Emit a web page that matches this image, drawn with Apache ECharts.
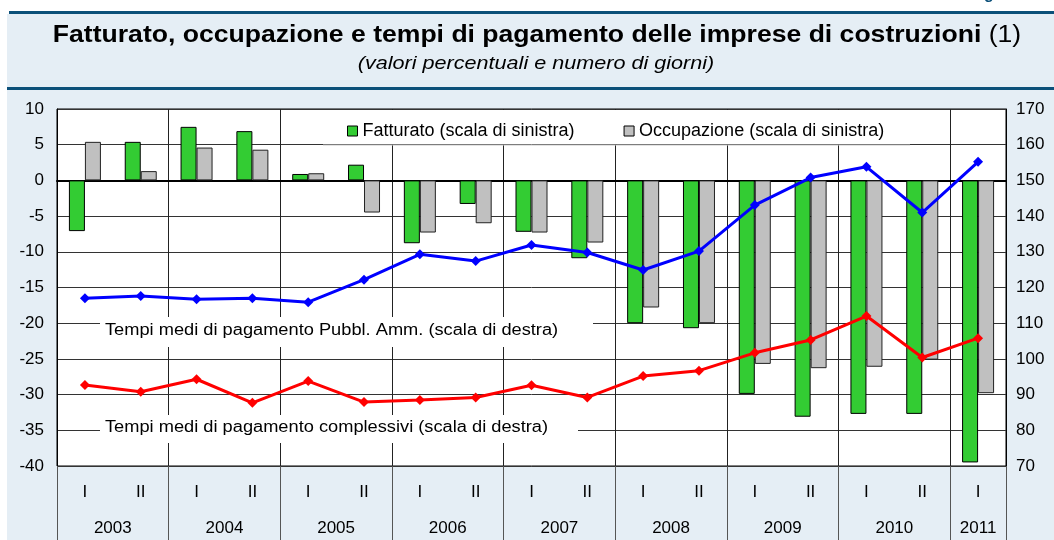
<!DOCTYPE html>
<html>
<head>
<meta charset="utf-8">
<script src="https://cdn.jsdelivr.net/npm/echarts@6/dist/echarts.min.js"></script>
<style>
  html, body { margin: 0; padding: 0; background: #fff; }
  #chart { width: 1054px; height: 540px; }
</style>
</head>
<body>
<div id="chart"></div>
<script>
// semestri (I / II) dal 2003 al 2011
var halves = ['I', 'II', 'I', 'II', 'I', 'II', 'I', 'II', 'I', 'II', 'I', 'II', 'I', 'II', 'I', 'II', 'I']
var years = ['2003', '2004', '2005', '2006', '2007', '2008', '2009', '2010', '2011']

// scala di sinistra (valori percentuali)
var fatturato = [-7.1, 5.4, 7.5, 6.9, 0.9, 2.2, -8.8, -3.3, -7.2, -10.9, -20.0, -20.7, -29.9, -33.1, -32.7, -32.7, -39.5]
var occupazione = [5.4, 1.3, 4.6, 4.3, 1.0, -4.5, -7.3, -6.0, -7.3, -8.7, -17.8, -20.0, -25.7, -26.3, -26.1, -25.1, -29.8]

// scala di destra (numero di giorni)
var pubblAmm = [117.0, 117.6, 116.7, 117.0, 115.9, 122.2, 129.3, 127.4, 131.9, 129.8, 124.9, 130.2, 143.1, 150.8, 153.8, 141.0, 155.2]
var complessivi = [92.7, 90.8, 94.3, 87.7, 93.8, 87.9, 88.5, 89.2, 92.6, 89.2, 95.2, 96.7, 101.7, 105.3, 112.0, 100.4, 105.8]

var font = "'Liberation Sans', Arial, sans-serif"
var bgBlue = '#e5eef5'
var darkBlue = '#0b5079'

// asse degli anni: 2 punti per semestre, etichetta al centro di ogni anno
var yearAxis = []
for (var i = 0; i <= halves.length * 2; i++) yearAxis.push('')
years.forEach(function (y, k) {
  var start = k * 4
  var end = Math.min(start + 4, halves.length * 2)
  yearAxis[(start + end) / 2] = y
})

var chart = echarts.init(document.getElementById('chart'))

var option = {
  backgroundColor: '#fff',
  animation: false,
  textStyle: { fontFamily: font },
  graphic: [
    { type: 'rect', shape: { x: 7, y: 14, width: 1047, height: 73 }, style: { fill: bgBlue }, z: -1 },
    { type: 'rect', shape: { x: 7, y: 90, width: 1047, height: 450 }, style: { fill: bgBlue }, z: -1 },
    { type: 'rect', shape: { x: 9, y: 11, width: 1045, height: 3 }, style: { fill: darkBlue }, z: -1 },
    { type: 'rect', shape: { x: 7, y: 87, width: 1047, height: 3 }, style: { fill: darkBlue }, z: -1 },
    { type: 'text', x: 984, y: -13, style: { text: 'g', font: 'bold 16px ' + font, fill: darkBlue } },
    {
      type: 'text', x: 537, y: 36, scaleX: 1.155,
      style: {
        text: '{b|Fatturato, occupazione e tempi di pagamento delle imprese di costruzioni}{n| (1)}',
        align: 'center', verticalAlign: 'middle',
        rich: {
          b: { font: 'bold 23px ' + font, fill: '#000' },
          n: { font: '23px ' + font, fill: '#000' }
        }
      }
    },
    {
      type: 'text', x: 536, y: 64, scaleX: 1.2,
      style: { text: '(valori percentuali e numero di giorni)', font: 'italic 18px ' + font, fill: '#000', align: 'center', verticalAlign: 'middle' }
    },
    // riquadro bianco della legenda
    { type: 'rect', shape: { x: 323, y: 110, width: 587, height: 34 }, style: { fill: '#fff' }, z: 1 },
    { type: 'line', shape: { x1: 323, y1: 145, x2: 910, y2: 145 }, style: { stroke: '#c8c8c8', lineWidth: 1 }, z: 1 },
    // etichette delle linee
    { type: 'rect', shape: { x: 100, y: 317, width: 493, height: 30 }, style: { fill: '#fff' }, z: 1 },
    { type: 'text', x: 105, y: 331, z: 1, scaleX: 1.14, style: { text: 'Tempi medi di pagamento Pubbl. Amm. (scala di destra)', font: '16px ' + font, fill: '#000', verticalAlign: 'middle' } },
    { type: 'rect', shape: { x: 100, y: 415, width: 478, height: 28 }, style: { fill: '#fff' }, z: 1 },
    { type: 'text', x: 105, y: 428, z: 1, scaleX: 1.14, style: { text: 'Tempi medi di pagamento complessivi (scala di destra)', font: '16px ' + font, fill: '#000', verticalAlign: 'middle' } }
  ],
  legend: {
    data: ['Fatturato (scala di sinistra)', 'Occupazione (scala di sinistra)'],
    left: 347,
    top: 122,
    padding: 0,
    itemWidth: 10,
    itemHeight: 10,
    itemGap: 49,
    icon: 'rect',
    textStyle: { fontSize: 18, color: '#000', fontFamily: font },
    itemStyle: { borderColor: '#000', borderWidth: 1 }
  },
  grid: {
    left: 57,
    right: 48,
    top: 109,
    bottom: 74,
    show: true,
    backgroundColor: '#fff',
    borderColor: '#000',
    borderWidth: 1
  },
  xAxis: [
    {
      type: 'category',
      data: halves,
      axisLine: { lineStyle: { color: '#000', width: 2 } },
      axisTick: { show: false },
      axisLabel: { fontSize: 17, color: '#000', margin: 18, fontFamily: font, interval: 0 },
      splitLine: { show: false }
    },
    {
      type: 'category',
      data: yearAxis,
      boundaryGap: false,
      position: 'bottom',
      axisLine: { show: false },
      axisTick: {
        show: true,
        length: 74,
        interval: function (i) { return i % 4 === 0 || i === yearAxis.length - 1 },
        lineStyle: { color: '#555', width: 1 }
      },
      axisLabel: {
        fontSize: 17, color: '#000', margin: 54, fontFamily: font,
        interval: function (i, v) { return v !== '' }
      },
      splitLine: {
        show: true,
        interval: function (i) { return i % 4 === 0 },
        lineStyle: { color: '#222', width: 1 }
      }
    }
  ],
  yAxis: [
    {
      type: 'value',
      min: -40,
      max: 10,
      interval: 5,
      axisLine: { show: true, lineStyle: { color: '#000' } },
      axisTick: { show: false },
      axisLabel: { fontSize: 17, color: '#000', margin: 13, fontFamily: font },
      splitLine: { lineStyle: { color: '#333', width: 1 } }
    },
    {
      type: 'value',
      min: 70,
      max: 170,
      interval: 10,
      axisLine: { show: true, lineStyle: { color: '#000' } },
      axisTick: { show: false },
      axisLabel: { fontSize: 17, color: '#000', margin: 10, fontFamily: font },
      splitLine: { show: false }
    }
  ],
  series: [
    {
      name: 'Fatturato (scala di sinistra)',
      type: 'bar',
      data: fatturato,
      barWidth: 16,
      barGap: '0%',
      itemStyle: { color: '#33cc33', borderColor: '#000', borderWidth: 1 }
    },
    {
      name: 'Occupazione (scala di sinistra)',
      type: 'bar',
      data: occupazione,
      barWidth: 16,
      barGap: '0%',
      itemStyle: { color: '#c0c0c0', borderColor: '#222', borderWidth: 1 }
    },
    {
      name: 'Tempi medi di pagamento Pubbl. Amm. (scala di destra)',
      type: 'line',
      yAxisIndex: 1,
      data: pubblAmm,
      symbol: 'diamond',
      symbolSize: 10,
      itemStyle: { color: '#0000ff' },
      lineStyle: { color: '#0000ff', width: 3 },
      z: 3
    },
    {
      name: 'Tempi medi di pagamento complessivi (scala di destra)',
      type: 'line',
      yAxisIndex: 1,
      data: complessivi,
      symbol: 'diamond',
      symbolSize: 10,
      itemStyle: { color: '#ff0000' },
      lineStyle: { color: '#ff0000', width: 3 },
      z: 3
    }
  ]
}

option && chart.setOption(option)
</script>
</body>
</html>
